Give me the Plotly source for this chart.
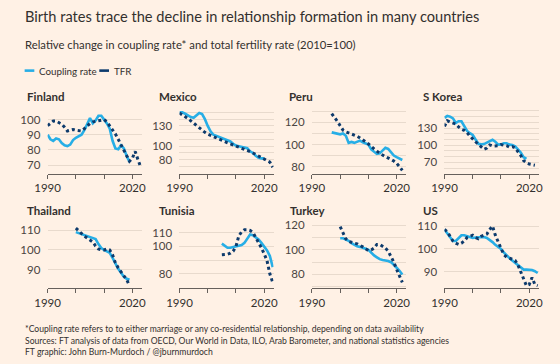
import plotly.graph_objects as go

# ---------------- data ----------------
fin_c_years = list(range(1990, 2020))
fin_coupling = [90, 87, 86, 87.5, 87, 84.5, 83, 82.5, 83.5, 86.5, 88, 89, 90, 93, 97, 101, 97.5,
                99.5, 102.5, 102.5, 100, 97.5, 94, 86, 81, 80.5, 83, 81, 76, 72]
fin_t_years = list(range(1990, 2024))
fin_tfr = [96, 97.5, 99, 99, 98, 97, 95, 92.5, 93, 93.5, 93, 92.5, 92.5, 94, 96, 97.5, 98.5, 99,
           99.5, 99.5, 100, 98.5, 96, 93.5, 90.5, 87, 83.5, 80, 76, 72.5, 74.5, 79, 73.5, 68.5]

mex_c_years = list(range(1990, 2021))
mex_coupling = [150, 150, 148, 145.5, 143, 142, 146, 149, 147.5, 140, 130, 122, 117, 115.5, 113.5,
                112.5, 111, 109.5, 107, 103.5, 101, 100, 99, 99, 97, 92.5, 90, 86, 83, 82, 82]
mex_t_years = list(range(1990, 2024))
mex_tfr = [149, 146.5, 144, 141, 137.5, 134, 130.5, 127, 123.5, 120.5, 118, 116, 114.5, 113, 111,
           109, 107, 105, 103.5, 102, 100, 98.5, 97.5, 96, 94, 92, 90, 88, 86, 84, 81, 78.5, 76.5, 69]

per_c_years = list(range(1997, 2023))
per_coupling = [111, 110.5, 110, 109.2, 110, 108, 101.5, 102.3, 101.5, 102.5, 103.5, 102, 101, 100,
                95.5, 93.5, 91.5, 92, 94.5, 97, 96, 92.5, 90, 88.5, 87, 86]
per_t_years = list(range(1997, 2023))
per_tfr = [128, 125, 121, 117, 113, 111.5, 110.5, 110, 108.5, 107.5, 106, 104.5, 102.5, 100.5, 98,
           96, 94, 92, 90.5, 89, 88, 86.5, 85, 83, 80, 76.5]

kor_c_years = list(range(1990, 2020))
kor_coupling = [148, 151.5, 150, 147, 139, 142, 142, 133, 125, 121, 118, 110, 102.5, 101.5, 102,
                104.5, 107.5, 109.5, 106, 101, 101.5, 103.5, 103.5, 101, 100.5, 98, 92.5, 87, 79, 76]
kor_t_years = list(range(1990, 2023))
kor_tfr = [133, 143, 140.5, 139, 137, 132, 128, 126, 122, 116, 110.5, 106, 101.5, 98, 93, 95,
           100.5, 98.5, 98.5, 99, 101, 100.5, 99, 96.5, 97.5, 95.5, 89.5, 82, 73, 69, 67, 65.5, 65]

tha_c_years = list(range(2000, 2020))
tha_coupling = [109, 108.5, 108, 107.3, 106.8, 106.3, 106, 105.5, 103, 101, 100, 99.2, 98.5, 96,
                93, 90.5, 88.5, 86.5, 85.5, 85]
tha_t_years = list(range(2000, 2020))
tha_tfr = [111, 109.5, 108, 107, 106, 105, 104, 102, 100.5, 100, 100, 100.5, 100, 97.5, 93.5, 91,
           89, 87.5, 85, 82]

tun_c_years = list(range(2005, 2024))
tun_coupling = [102, 100.5, 99, 99, 99.5, 100.5, 101, 101, 102.5, 105.5, 108.5, 108, 106.5, 105,
                102.5, 100, 97, 93, 85]
tun_t_years = list(range(2005, 2024))
tun_tfr = [94, 94, 94.3, 95, 96.5, 100, 107.5, 110.5, 112, 112, 111.5, 110, 106.5, 103, 99, 94.5,
           89.5, 80, 74]

tur_c_years = list(range(2000, 2023))
tur_coupling = [109.5, 109.5, 108.5, 107.5, 105.5, 104, 103, 102.5, 102, 101, 100, 97.5, 95.5, 94,
                92.5, 91.8, 91.5, 91, 90, 88, 85.5, 83, 80]
tur_t_years = list(range(2000, 2023))
tur_tfr = [119, 114, 109, 107, 106, 105.5, 105, 104, 102.5, 101, 99.5, 100, 101.5, 104.5, 104.5,
           103, 101.5, 99, 95, 90, 84, 78.5, 73.5]

us_c_years = list(range(1990, 2024))
us_coupling = [108.5, 107, 105, 103.5, 103.5, 105, 106, 106, 105.5, 105, 104.8, 105, 105, 105.2,
               105.2, 104.8, 104, 103, 101.8, 100.8, 100, 98.5, 97, 96, 95, 94, 93, 92, 91, 91,
               91, 90.8, 90.3, 89.5]
us_t_years = list(range(1990, 2024))
us_tfr = [108.5, 107.5, 105.5, 103.5, 102.5, 102, 102.5, 103.5, 105, 105.5, 106, 105, 104.5, 105.5,
          106, 106.5, 108.5, 110, 106, 103, 100, 97.5, 96.5, 96, 95.5, 95, 93, 90, 87, 84, 84.5,
          87.5, 84.5, 84]

countries = ["Finland", "Mexico", "Peru", "S Korea", "Thailand", "Tunisia", "Turkey", "US"]
y_labels = [[70, 80, 90, 100], [80, 100, 130], [80, 100, 120], [70, 100, 130],
            [90, 100, 110], [80, 100, 110], [80, 100, 120], [90, 100, 110]]
x_labels = ["1990", "2020"]

series = [
    (fin_c_years, fin_coupling, fin_t_years, fin_tfr),
    (mex_c_years, mex_coupling, mex_t_years, mex_tfr),
    (per_c_years, per_coupling, per_t_years, per_tfr),
    (kor_c_years, kor_coupling, kor_t_years, kor_tfr),
    (tha_c_years, tha_coupling, tha_t_years, tha_tfr),
    (tun_c_years, tun_coupling, tun_t_years, tun_tfr),
    (tur_c_years, tur_coupling, tur_t_years, tur_tfr),
    (us_c_years, us_coupling, us_t_years, us_tfr),
]

# ---------------- style / layout ----------------
W, H = 560, 364
BG = "#fff1e5"
TEXT = "#33302e"
TICK = "#4a4542"
COUP = "#27aee6"
TFRC = "#0d3a6c"
GRID = "#e8dacd"
AXIS = "#66605c"
FONT = "Lato"

y_ranges = [[64.4, 108.7], [59.6, 158.8], [73.7, 134.5], [50.3, 168],
            [80.9, 114.7], [69.9, 118.5], [69, 123.8], [83, 112.3]]
col_x0 = [35.7, 171.7, 308.3, 445]
plot_w = 97
row_top = [105, 220]
row_bot = [172.5, 287.5]
title_x = [12, 148, 283, 421, 12, 148, 284, 421]
title_y = [95, 210]

fig = go.Figure()
layout = {}
annotations = []
for i, name in enumerate(countries):
    r, c = divmod(i, 4)
    k = i + 1
    xa = "x" if k == 1 else f"x{k}"
    ya = "y" if k == 1 else f"y{k}"
    cy, cv, ty, tv = series[i]
    fig.add_trace(go.Scatter(x=cy, y=cv, mode="lines", xaxis=xa, yaxis=ya,
                             line=dict(color=COUP, width=2.6), showlegend=False,
                             hoverinfo="skip"))
    fig.add_trace(go.Scatter(x=ty, y=tv, mode="lines", xaxis=xa, yaxis=ya,
                             line=dict(color=TFRC, width=3, dash="dot"), showlegend=False,
                             hoverinfo="skip"))
    lo, hi = y_ranges[i]
    grid_vals = [v for v in range(0, 200, 10) if lo < v < hi]
    grid_text = [str(v) if v in y_labels[i] else "" for v in grid_vals]
    x0 = col_x0[c]
    layout["xaxis" if k == 1 else f"xaxis{k}"] = dict(
        domain=[x0 / W, (x0 + plot_w) / W], anchor=ya, range=[1990, 2023.3],
        tickvals=[1990, 2000, 2010, 2020], ticktext=[x_labels[0], "", "", x_labels[1]],
        ticks="outside", ticklen=4, tickcolor=AXIS, tickwidth=1,
        showline=True, linecolor=AXIS, linewidth=1, showgrid=False, zeroline=False,
        tickfont=dict(family=FONT, size=11.5, color=TEXT), fixedrange=True)
    layout["yaxis" if k == 1 else f"yaxis{k}"] = dict(
        domain=[1 - row_bot[r] / H, 1 - row_top[r] / H], anchor=xa, range=[lo, hi],
        tickvals=grid_vals, ticktext=grid_text, ticks="outside", ticklen=4,
        tickcolor="rgba(0,0,0,0)", showgrid=True, gridcolor=GRID, gridwidth=1,
        zeroline=False, showline=False,
        tickfont=dict(family=FONT, size=11.5, color=TICK), fixedrange=True)
    annotations.append(dict(text=f"<b>{name}</b>", x=title_x[i] / W, y=1 - title_y[r] / H,
                            xref="paper", yref="paper", xanchor="left", yanchor="middle",
                            showarrow=False, font=dict(family=FONT, size=11.5, color=TEXT)))

# header
annotations.append(dict(text="Birth rates trace the decline in relationship formation in many countries",
                        x=10 / W, y=1 - 15 / H, xref="paper", yref="paper", xanchor="left",
                        yanchor="middle", showarrow=False,
                        font=dict(family=FONT, size=14.6, color=TEXT)))
annotations.append(dict(text="Relative change in coupling rate* and total fertility rate (2010=100)",
                        x=10 / W, y=1 - 43 / H, xref="paper", yref="paper", xanchor="left",
                        yanchor="middle", showarrow=False,
                        font=dict(family=FONT, size=11.3, color=TEXT)))
# legend
legend_items = [("Coupling rate", COUP, 12, 25), ("TFR", TFRC, 89, 102)]
shapes = []
for label, col, lx, tx in legend_items:
    shapes.append(dict(type="line", xref="paper", yref="paper", x0=lx / W, x1=(lx + 10) / W,
                       y0=1 - 69 / H, y1=1 - 69 / H, line=dict(color=col, width=2.6)))
    annotations.append(dict(text=label, x=tx / W, y=1 - 69 / H, xref="paper", yref="paper",
                            xanchor="left", yanchor="middle", showarrow=False,
                            font=dict(family=FONT, size=9.8, color=TEXT)))
# footer
footer = ["*Coupling rate refers to to either marriage or any co-residential relationship, depending on data availability",
          "Sources: FT analysis of data from OECD, Our World in Data, ILO, Arab Barometer, and national statistics agencies",
          "FT graphic: John Burn-Murdoch / @jburnmurdoch"]
for j, line in enumerate(footer):
    annotations.append(dict(text=line, x=10 / W, y=1 - (329 + 11.6 * j) / H, xref="paper",
                            yref="paper", xanchor="left", yanchor="middle", showarrow=False,
                            font=dict(family=FONT, size=8.6, color=TEXT)))

fig.update_layout(width=W, height=H, autosize=False, margin=dict(l=0, r=0, t=0, b=0),
                  paper_bgcolor=BG, plot_bgcolor=BG, annotations=annotations, shapes=shapes,
                  showlegend=False, **layout)
fig.write_html("out.html", config={"displayModeBar": False},
               post_script="document.body.style.margin='0';document.body.style.background='#fff1e5';")
